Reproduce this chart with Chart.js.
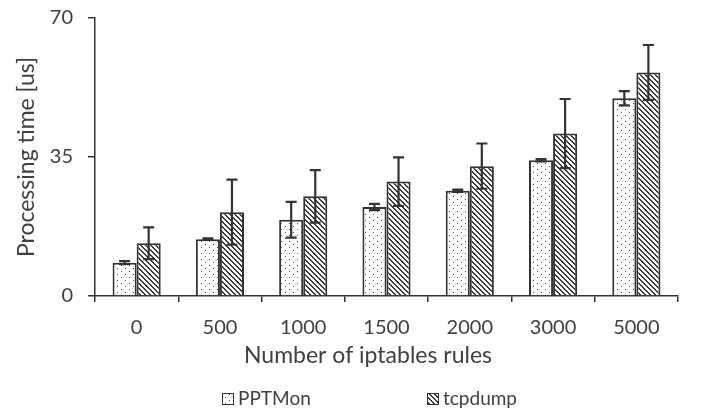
<!DOCTYPE html>
<html>
<head>
<meta charset="utf-8">
<script src="https://cdn.jsdelivr.net/npm/chart.js@4/dist/chart.umd.min.js"></script>
<style>
html,body{margin:0;padding:0;background:#fff;}
#wrap{width:701px;height:410px;position:relative;}
</style>
</head>
<body>
<div id="wrap"><canvas id="c" width="701" height="410"></canvas></div>
<script>
const categories = ['0','500','1000','1500','2000','3000','5000'];
const seriesNames = ['PPTMon','tcpdump'];
const pptmonValues = [8.4, 14.3, 19.2, 22.4, 26.5, 34.2, 49.8];
const pptmonErrors = [0.4, 0.2, 4.5, 0.8, 0.3, 0.3, 1.8];
const tcpdumpValues = [13.3, 21.1, 25.1, 28.8, 32.7, 40.9, 56.3];
const tcpdumpErrors = [4.0, 8.2, 6.6, 6.1, 5.7, 8.7, 6.9];
const yTicks = [0, 35, 70];
const xTitle = 'Number of iptables rules';
const yTitle = 'Processing time [us]';

const FONT = "Lato, 'Open Sans', sans-serif";
const TEXT = '#404040';
const LINE = '#333333';

function makePattern(kind){
  const c = document.createElement('canvas');
  const ctx = c.getContext('2d');
  if(kind === 'dots'){
    c.width = 8; c.height = 6;
    ctx.fillStyle = '#ffffff'; ctx.fillRect(0,0,8,6);
    ctx.fillStyle = '#555555';
    ctx.fillRect(1,1,1,1);
    ctx.fillRect(5,4,1,1);
  } else {
    c.width = 5; c.height = 5;
    ctx.fillStyle = '#ffffff'; ctx.fillRect(0,0,5,5);
    ctx.fillStyle = '#3a3a3a';
    for(let i=0;i<5;i++){
      ctx.fillRect(i,i,1,1);
      ctx.fillRect((i+1)%5,i,1,1);
    }
  }
  return ctx.createPattern(c,'repeat');
}

const errorBarsPlugin = {
  id:'errorBars',
  afterDatasetsDraw(chart){
    const ctx = chart.ctx;
    const y = chart.scales.y;
    const errs = [pptmonErrors, tcpdumpErrors];
    ctx.save();
    ctx.strokeStyle = LINE;
    ctx.lineWidth = 2.2;
    chart.data.datasets.forEach((ds, di) => {
      const meta = chart.getDatasetMeta(di);
      meta.data.forEach((bar, i) => {
        const v = ds.data[i], e = errs[di][i];
        const x = bar.x;
        const yt = y.getPixelForValue(v + e);
        const yb = y.getPixelForValue(v - e);
        ctx.beginPath();
        ctx.moveTo(x, yt); ctx.lineTo(x, yb);
        ctx.moveTo(x-5.5, yt); ctx.lineTo(x+5.5, yt);
        ctx.moveTo(x-5.5, yb); ctx.lineTo(x+5.5, yb);
        ctx.stroke();
      });
    });
    ctx.restore();
  }
};

const titlesLegendPlugin = {
  id:'titlesLegend',
  afterDraw(chart){
    const ctx = chart.ctx;
    const ca = chart.chartArea;
    ctx.save();
    ctx.fillStyle = TEXT;
    ctx.font = "23px " + FONT;
    ctx.textAlign = 'center';
    ctx.textBaseline = 'alphabetic';
    ctx.fillText(xTitle, 368, 363);
    ctx.save();
    ctx.translate(34, (ca.top + ca.bottom)/2);
    ctx.rotate(-Math.PI/2);
    ctx.fillText(yTitle, 0, 0);
    ctx.restore();
    // legend
    const iconX = [222, 427];
    ctx.font = "19px " + FONT;
    ctx.textAlign = 'left';
    ctx.textBaseline = 'alphabetic';
    chart.data.datasets.forEach((ds, i) => {
      const x = iconX[i];
      ctx.fillStyle = ds.backgroundColor;
      ctx.fillRect(x, 393, 12, 12);
      ctx.strokeStyle = LINE;
      ctx.lineWidth = 1;
      ctx.strokeRect(x+0.5, 393.5, 11, 11);
      ctx.fillStyle = TEXT;
      ctx.fillText(ds.label, x + 16, 405);
    });
    ctx.restore();
  }
};

new Chart(document.getElementById('c'), {
  type:'bar',
  data:{
    labels: categories,
    datasets:[
      {label: seriesNames[0], data: pptmonValues, backgroundColor: makePattern('dots'), borderColor: LINE, borderWidth: 2},
      {label: seriesNames[1], data: tcpdumpValues, backgroundColor: makePattern('hatch'), borderColor: LINE, borderWidth: 2}
    ]
  },
  plugins:[errorBarsPlugin, titlesLegendPlugin],
  options:{
    responsive:false,
    animation:false,
    devicePixelRatio:1,
    layout:{padding:{top:18, right:23, bottom:27, left:0}},
    datasets:{bar:{barPercentage:1.0, categoryPercentage:0.578}},
    plugins:{
      tooltip:{enabled:false},
      legend:{display:false}
    },
    scales:{
      x:{
        grid:{display:true, drawOnChartArea:false, drawTicks:true, tickLength:6, color:LINE, lineWidth:1.5, offset:true},
        border:{display:true, color:LINE, width:1.5},
        ticks:{font:{family:FONT, size:20}, color:TEXT, padding:14},
        afterFit(s){ s.height = 87; }
      },
      y:{
        min:0, max:70,
        afterBuildTicks(s){ s.ticks = yTicks.map(v => ({value:v})); },
        grid:{display:true, drawOnChartArea:false, drawTicks:true, tickLength:7, color:LINE, lineWidth:1.5},
        border:{display:true, color:LINE, width:1.5},
        ticks:{font:{family:FONT, size:20, lineHeight:0.5}, color:TEXT, padding:15},
        afterFit(s){ s.width = 95; s.paddingTop = 0; s.paddingBottom = 0; }
      }
    }
  }
});
</script>
</body>
</html>
